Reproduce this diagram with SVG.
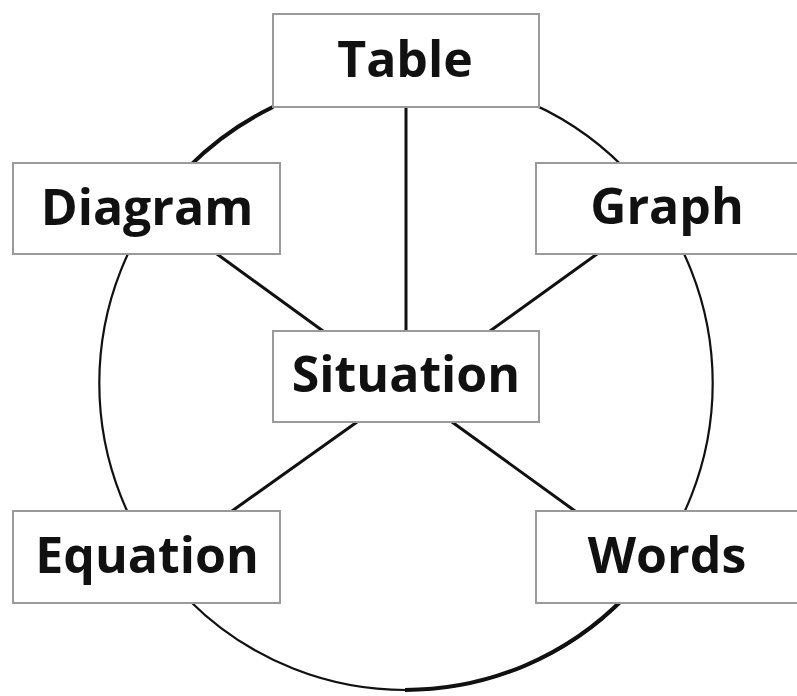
<svg xmlns="http://www.w3.org/2000/svg" width="797" height="696" viewBox="0 0 797 696">
<style>
.box{fill:#fff;stroke:#9a9a9a;stroke-width:2}
.lbl{font-family:"Open Sans","Liberation Sans",sans-serif;font-weight:bold;font-size:50px;fill:#111;text-anchor:middle}
.con line{stroke:#111;stroke-width:3;stroke-linecap:round}
</style>
<rect width="797" height="696" fill="#fff"/>
<g id="ring">
<circle cx="406" cy="383.3" r="306.7" fill="none" stroke="#111" stroke-width="2.2"/>
<path d="M128,254 A306.7,306.7 0 0 1 273,107" fill="none" stroke="#111" stroke-width="4"/>
<path d="M405,690 A306.7,306.7 0 0 0 625,597" fill="none" stroke="#111" stroke-width="4"/>
</g>
<g class="con" id="connectors">
<line x1="406" y1="107" x2="406" y2="331"/>
<line x1="217" y1="254" x2="323" y2="331"/>
<line x1="597" y1="254" x2="490" y2="331"/>
<line x1="357" y1="422" x2="232" y2="511"/>
<line x1="452" y1="422" x2="575" y2="511"/>
</g>
<g id="table"><rect class="box" x="273" y="14" width="266" height="93"/><text class="lbl" x="405" y="77">Table</text></g>
<g id="diagram"><rect class="box" x="13" y="163" width="267" height="91"/><text class="lbl" x="147" y="225">Diagram</text></g>
<g id="graph"><rect class="box" x="536" y="163" width="270" height="91"/><text class="lbl" x="667" y="224">Graph</text></g>
<g id="situation"><rect class="box" x="273" y="331" width="266" height="91"/><text class="lbl" x="406" y="392">Situation</text></g>
<g id="equation"><rect class="box" x="13" y="511" width="267" height="92"/><text class="lbl" x="147" y="573">Equation</text></g>
<g id="words"><rect class="box" x="536" y="511" width="270" height="92"/><text class="lbl" x="667" y="573">Words</text></g>
</svg>
